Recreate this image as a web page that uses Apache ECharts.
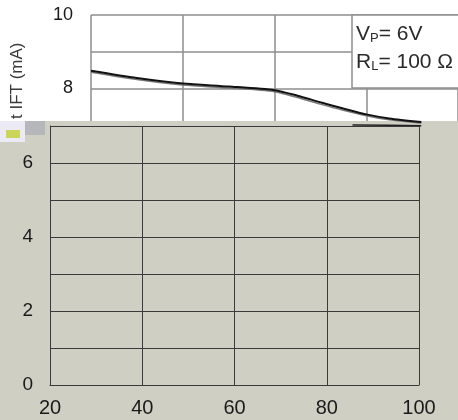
<!DOCTYPE html>
<html><head><meta charset="utf-8">
<script src="https://cdn.jsdelivr.net/npm/echarts@6/dist/echarts.min.js"></script>
<style>html,body{margin:0;padding:0;background:#fff}#c{width:458px;height:420px}</style>
</head><body><div id="c"></div>
<script>
// Lower (gray) panel axis
const xTicks = [20, 40, 60, 80, 100];
const yLowTicks = [0, 2, 4, 6];
// Upper (white) panel axis
const yHighTicks = [8, 10];
// IFT curve (upper panel), x = temperature, y = IFT (mA)
const curveX = [20, 30, 40, 50, 60, 65, 70, 75, 80, 85, 92];
const curveUpper = [8.48, 8.28, 8.13, 8.05, 7.95, 7.80, 7.62, 7.45, 7.29, 7.18, 7.08];
const curveLower = [8.44, 8.24, 8.09, 8.01, 7.91, 7.75, 7.57, 7.40, 7.25, 7.14, 7.05];
const tailX = [77, 85, 92];
const tailY = [7.0, 6.99, 6.98];
const legendLines = ['{b|V}{s|P}{b|= 6V}', '{b|R}{s|L}{b|= 100 Ω}'];

const chart = echarts.init(document.getElementById('c'));
const gridLineHi = {show: true, lineStyle: {color: '#8e8e8e', width: 1.5}};
const gridLineLo = {show: true, lineStyle: {color: '#3a3a3a', width: 1}};
const font = 'Liberation Sans, Arial, sans-serif';
chart.setOption({
  animation: false,
  backgroundColor: '#ffffff',
  grid: [
    {left: 91, top: 15, width: 368, height: 110},
    {left: 50, top: 126, width: 369, height: 259}
  ],
  xAxis: [
    {gridIndex: 0, type: 'value', min: 20, max: 100, interval: 20, z: 0,
     axisLine: {show: false}, axisTick: {show: false}, axisLabel: {show: false},
     splitLine: gridLineHi},
    {gridIndex: 1, type: 'value', min: 20, max: 100, interval: 20, z: 5,
     axisLine: {show: true, lineStyle: {color: '#3a3a3a', width: 1}}, axisTick: {show: false},
     axisLabel: {color: '#1a1a1a', fontSize: 20, fontFamily: font, margin: 13,
       formatter: v => xTicks.includes(v) ? String(v) : ''},
     splitLine: gridLineLo}
  ],
  yAxis: [
    {gridIndex: 0, type: 'value', min: 7, max: 10, interval: 1, z: 0,
     axisLine: {show: false}, axisTick: {show: false},
     axisLabel: {color: '#1a1a1a', fontSize: 18, fontFamily: font, margin: 18,
       formatter: v => yHighTicks.includes(v) ? String(v) : ''},
     splitLine: gridLineHi},
    {gridIndex: 1, type: 'value', min: 0, max: 7, interval: 1, z: 5,
     axisLine: {show: true, lineStyle: {color: '#3a3a3a', width: 1}}, axisTick: {show: false},
     axisLabel: {color: '#1a1a1a', fontSize: 19, fontFamily: font, margin: 17,
       formatter: v => yLowTicks.includes(v) ? String(v) : ''},
     splitLine: gridLineLo}
  ],
  series: [
    {type: 'line', xAxisIndex: 0, yAxisIndex: 0, z: 3, smooth: 0.25, symbol: 'none', clip: false,
     lineStyle: {color: '#777', width: 1.5},
     data: curveX.map((x, i) => [x, curveLower[i]])},
    {type: 'line', xAxisIndex: 0, yAxisIndex: 0, z: 3, smooth: 0.25, symbol: 'none', clip: false,
     lineStyle: {color: '#111', width: 2},
     data: curveX.map((x, i) => [x, curveUpper[i]])},
    {type: 'line', xAxisIndex: 0, yAxisIndex: 0, z: 3, symbol: 'none', clip: false,
     lineStyle: {color: '#222', width: 1.5},
     data: tailX.map((x, i) => [x, tailY[i]])}
  ],
  graphic: [
    {type: 'rect', z: 1, shape: {x: 0, y: 121, width: 458, height: 299}, style: {fill: '#cfcfc3'}},
    {type: 'rect', z: 2, shape: {x: 0, y: 121, width: 25, height: 21}, style: {fill: '#eceaf4'}},
    {type: 'rect', z: 2, shape: {x: 6, y: 130, width: 14, height: 8}, style: {fill: '#c9d65a'}},
    {type: 'rect', z: 2, shape: {x: 25, y: 121, width: 20, height: 14}, style: {fill: '#b5b7ba'}},
    {type: 'rect', z: 4, shape: {x: 352, y: 15, width: 110, height: 73},
     style: {fill: '#fff', stroke: '#8e8e8e', lineWidth: 1.5}},
    {type: 'text', z: 6, left: 356, top: 24,
     style: {text: legendLines[0], fill: '#2a2a2a',
       rich: {b: {fontSize: 21, fontFamily: font, fill: '#2a2a2a', verticalAlign: 'bottom'},
              s: {fontSize: 13, fontFamily: font, fill: '#2a2a2a', verticalAlign: 'bottom'}}}},
    {type: 'text', z: 6, left: 356, top: 52,
     style: {text: legendLines[1], fill: '#2a2a2a',
       rich: {b: {fontSize: 21, fontFamily: font, fill: '#2a2a2a', verticalAlign: 'bottom'},
              s: {fontSize: 13, fontFamily: font, fill: '#2a2a2a', verticalAlign: 'bottom'}}}},
    {type: 'text', z: 6, x: 17, y: 119, rotation: Math.PI / 2,
     style: {text: 't IFT (mA)', fill: '#3a3a3a', fontSize: 17, fontFamily: font,
       align: 'left', verticalAlign: 'middle'}}
  ]
});
</script></body></html>
